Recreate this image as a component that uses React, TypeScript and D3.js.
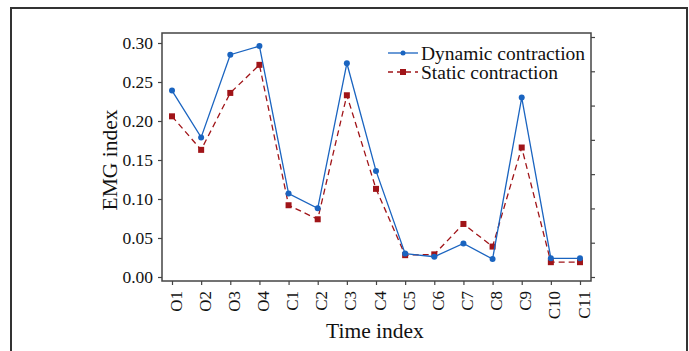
import * as d3 from 'd3';
import React, { useRef, useEffect } from 'react';

const W = 689;
const H = 351;

const categories = ['O1', 'O2', 'O3', 'O4', 'C1', 'C2', 'C3', 'C4', 'C5', 'C6', 'C7', 'C8', 'C9', 'C10', 'C11'];
const dynamicValues = [0.239, 0.179, 0.285, 0.296, 0.107, 0.088, 0.274, 0.136, 0.030, 0.026, 0.043, 0.023, 0.230, 0.024, 0.024];
const staticValues = [0.206, 0.163, 0.236, 0.272, 0.092, 0.074, 0.233, 0.113, 0.028, 0.029, 0.068, 0.039, 0.166, 0.019, 0.019];
const yTicks = [0, 0.05, 0.1, 0.15, 0.2, 0.25, 0.3];
const rightTicks = [0, 1, 2, 3, 4, 5, 6, 7];

const plot = { left: 162, top: 33, right: 591, bottom: 281 };
const font = "'Liberation Serif', 'Times New Roman', serif";
const blue = '#1a64c0';
const red = '#a01418';

function App() {
  const ref = useRef<SVGSVGElement>(null);

  useEffect(() => {
    const svg = d3.select(ref.current);
    svg.selectAll('*').remove();

    // outer frame
    svg.append('rect')
      .attr('x', 11).attr('y', 8)
      .attr('width', 676).attr('height', 360)
      .attr('fill', 'none').attr('stroke', '#333').attr('stroke-width', 2);

    const x = d3.scalePoint<string>()
      .domain(categories)
      .range([172, 580]);
    const y = d3.scaleLinear().domain([0, 0.3]).range([277, 43]);
    const yRight = d3.scaleLinear().domain([0, 7]).range([277, 37]);

    // plot box
    svg.append('rect')
      .attr('x', plot.left).attr('y', plot.top)
      .attr('width', plot.right - plot.left).attr('height', plot.bottom - plot.top)
      .attr('fill', 'none').attr('stroke', '#444').attr('stroke-width', 1.5);

    // left axis
    const gy = svg.append('g').attr('transform', `translate(${plot.left},0)`)
      .call(d3.axisLeft(y).tickValues(yTicks).tickFormat(d3.format('.2f')).tickSize(4).tickPadding(5));
    gy.select('.domain').remove();
    gy.selectAll('line').attr('stroke', '#444').attr('stroke-width', 1.2);
    gy.selectAll('text').attr('font-family', font).attr('font-size', 17.5).attr('fill', '#111');

    // right axis ticks (no labels)
    const gr = svg.append('g').attr('transform', `translate(${plot.right},0)`)
      .call(d3.axisRight(yRight).tickValues(rightTicks).tickFormat(() => '').tickSize(4));
    gr.select('.domain').remove();
    gr.selectAll('line').attr('stroke', '#444').attr('stroke-width', 1.2);

    // bottom axis
    const gx = svg.append('g').attr('transform', `translate(0,${plot.bottom})`)
      .call(d3.axisBottom(x).tickSize(4).tickPadding(0));
    gx.select('.domain').remove();
    gx.selectAll('line').attr('stroke', '#444').attr('stroke-width', 1.2);
    gx.selectAll('text')
      .attr('font-family', font).attr('font-size', 17).attr('fill', '#111')
      .attr('text-anchor', 'end')
      .attr('dy', null)
      .attr('transform', 'translate(5,10) rotate(-90)');

    // axis titles
    svg.append('text')
      .attr('x', 375).attr('y', 338)
      .attr('text-anchor', 'middle')
      .attr('font-family', font).attr('font-size', 21.5).attr('fill', '#111')
      .text('Time index');
    svg.append('text')
      .attr('transform', `translate(117,160) rotate(-90)`)
      .attr('text-anchor', 'middle')
      .attr('font-family', font).attr('font-size', 21.5).attr('fill', '#111')
      .text('EMG index');

    const line = d3.line<number>()
      .x((_, i) => x(categories[i]) as number)
      .y((d) => y(d));

    // static series
    svg.append('path')
      .attr('d', line(staticValues))
      .attr('fill', 'none').attr('stroke', red).attr('stroke-width', 1.3)
      .attr('stroke-dasharray', '6,4');
    svg.append('g').selectAll('rect')
      .data(staticValues)
      .join('rect')
      .attr('x', (_, i) => (x(categories[i]) as number) - 3)
      .attr('y', (d) => y(d) - 3)
      .attr('width', 6).attr('height', 6)
      .attr('fill', red);

    // dynamic series
    svg.append('path')
      .attr('d', line(dynamicValues))
      .attr('fill', 'none').attr('stroke', blue).attr('stroke-width', 1.3);
    svg.append('g').selectAll('circle')
      .data(dynamicValues)
      .join('circle')
      .attr('cx', (_, i) => x(categories[i]) as number)
      .attr('cy', (d) => y(d))
      .attr('r', 3)
      .attr('fill', blue);

    // legend
    const legend = svg.append('g').attr('transform', 'translate(388,0)');
    const items = [
      { label: 'Dynamic contraction', color: blue, dash: null, y: 53, square: false },
      { label: 'Static contraction', color: red, dash: '5,4', y: 72, square: true },
    ];
    items.forEach((it) => {
      legend.append('line')
        .attr('x1', 0).attr('x2', 30).attr('y1', it.y).attr('y2', it.y)
        .attr('stroke', it.color).attr('stroke-width', 1.3)
        .attr('stroke-dasharray', it.dash);
      if (it.square) {
        legend.append('rect').attr('x', 12).attr('y', it.y - 3).attr('width', 6).attr('height', 6).attr('fill', it.color);
      } else {
        legend.append('circle').attr('cx', 15).attr('cy', it.y).attr('r', 2.5).attr('fill', it.color);
      }
      legend.append('text')
        .attr('x', 33).attr('y', it.y + 6.5)
        .attr('font-family', font).attr('font-size', 19.5).attr('fill', '#111')
        .text(it.label);
    });
  }, []);

  return (
    <svg ref={ref} width={W} height={H} style={{ position: 'absolute', left: 0, top: 0, background: '#fff' }} />
  );
}

export default App;
